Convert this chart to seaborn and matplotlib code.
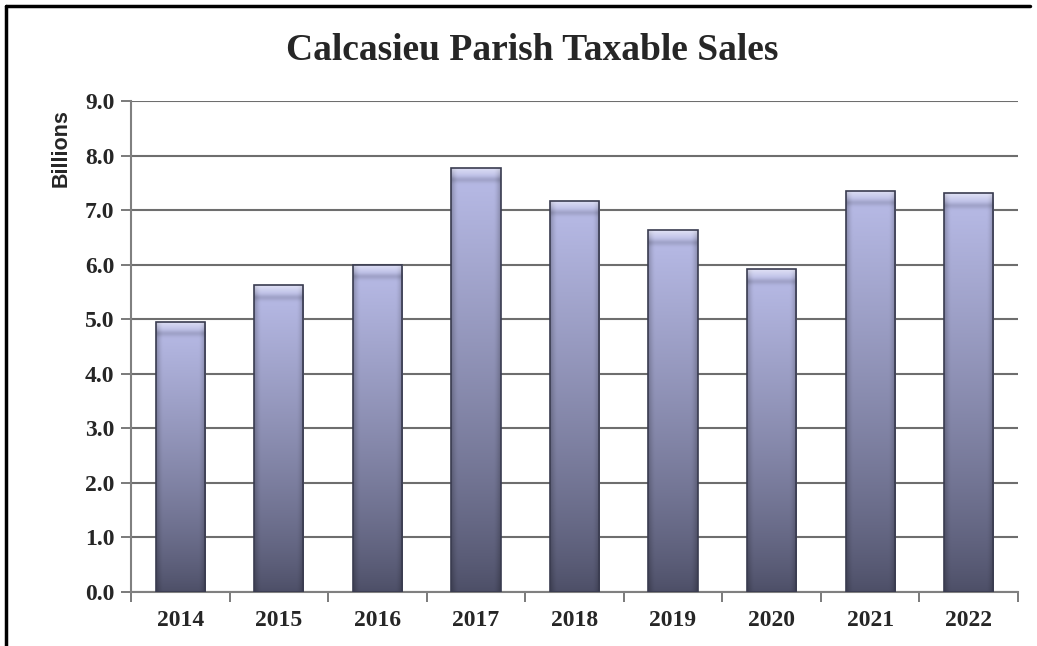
import numpy as np
import pandas as pd
import matplotlib
matplotlib.use("Agg")
import matplotlib.pyplot as plt
from matplotlib.lines import Line2D
import seaborn as sns

years = ["2014", "2015", "2016", "2017", "2018", "2019", "2020", "2021", "2022"]
sales = [4.95, 5.62, 6.00, 7.78, 7.17, 6.63, 5.92, 7.35, 7.31]
yticks = [0.0, 1.0, 2.0, 3.0, 4.0, 5.0, 6.0, 7.0, 8.0, 9.0]
title = "Calcasieu Parish Taxable Sales"
ylabel = "Billions"

df = pd.DataFrame({"year": years, "sales": sales})

sns.set_style("white")
serif = ["Liberation Serif", "DejaVu Serif"]
sans = ["Liberation Sans", "DejaVu Sans"]

fig = plt.figure(figsize=(10.37, 6.46), dpi=100)
ax = fig.add_axes([0.1263, 0.0836, 0.9817 - 0.1263, 0.8437 - 0.0836])

sns.barplot(data=df, x="year", y="sales", ax=ax, width=0.5,
            color="#9a9dc8", edgecolor="#3a3c50", linewidth=1.2, zorder=3)

# gradient fill for each bar
top_c = np.array([185, 188, 232]) / 255.0
bot_c = np.array([76, 78, 102]) / 255.0
ny, nx = 300, 40
t = (np.linspace(0, 1, ny) ** 0.8)[:, None]  # 0 bottom -> 1 top
base = bot_c[None, None, :] * (1 - t[..., None]) + top_c[None, None, :] * t[..., None]
xs = np.linspace(-1, 1, nx)[None, :]
edge = 1 - 0.22 * np.clip((np.abs(xs) - 0.72) / 0.28, 0, 1) ** 1.5
grad = base * edge[..., None]

for p in ax.patches:
    x0, w, h = p.get_x(), p.get_width(), p.get_height()
    img = grad.copy()
    bevel = 0.22 / h
    rows = np.arange(ny) / (ny - 1)
    f = np.clip((rows - (1 - bevel)) / bevel, 0, 1)
    mix = (0.55 * f ** 1.3)[:, None, None]
    img = img * (1 - mix) + mix * 1.0
    line = np.exp(-((rows - (1 - bevel)) / (0.25 * bevel)) ** 2)[:, None, None]
    img = img * (1 - 0.12 * line)
    img = np.clip(img, 0, 1)
    im = ax.imshow(img, extent=[x0, x0 + w, 0, h], origin="lower",
                   aspect="auto", zorder=2.9, interpolation="bilinear")
    im.set_clip_path(p)
    p.set_facecolor("none")

ax.set_xlim(-0.5, 8.5)
ax.set_ylim(0, 9.0)
ax.set_yticks(yticks)
ax.set_yticklabels([f"{v:.1f}" for v in yticks], fontfamily=serif,
                   fontweight="bold", fontsize=17)
ax.set_xticks(range(len(years)))
ax.set_xticklabels(years, fontfamily=serif, fontweight="bold", fontsize=17)
ax.set_xticks(np.arange(-0.5, 9.0, 1.0), minor=True)
ax.tick_params(axis="x", which="major", length=0, pad=13)
ax.tick_params(axis="x", which="minor", length=7, width=1.3, color="#707070",
               direction="out")
ax.tick_params(axis="y", which="major", length=7, width=1.3, color="#707070",
               direction="out", pad=5, left=True)
ax.tick_params(axis="x", bottom=True, which="minor")

ax.yaxis.grid(True, color="#6e6e6e", linewidth=1.5)
ax.set_axisbelow(True)
for s in ["top", "right"]:
    ax.spines[s].set_visible(False)
for s in ["left", "bottom"]:
    ax.spines[s].set_color("#808080")
    ax.spines[s].set_linewidth(1.5)

ax.set_xlabel("")
ax.set_ylabel(ylabel, fontfamily=sans, fontweight="bold", fontsize=15.5)
ax.yaxis.set_label_coords(-0.067, 0.904)

fig.text(0.5135, 0.922, title, ha="center", va="center", fontfamily=serif,
         fontweight="bold", fontsize=27)

# outer frame (left and top)
fig.add_artist(Line2D([6 / 1037, 6 / 1037], [0, 1 - 6 / 646], color="black",
                      linewidth=2.5, transform=fig.transFigure))
fig.add_artist(Line2D([6 / 1037, 1030 / 1037], [1 - 6 / 646, 1 - 6 / 646],
                      color="black", linewidth=2.5, transform=fig.transFigure))

fig.savefig("out.png", dpi=100)
